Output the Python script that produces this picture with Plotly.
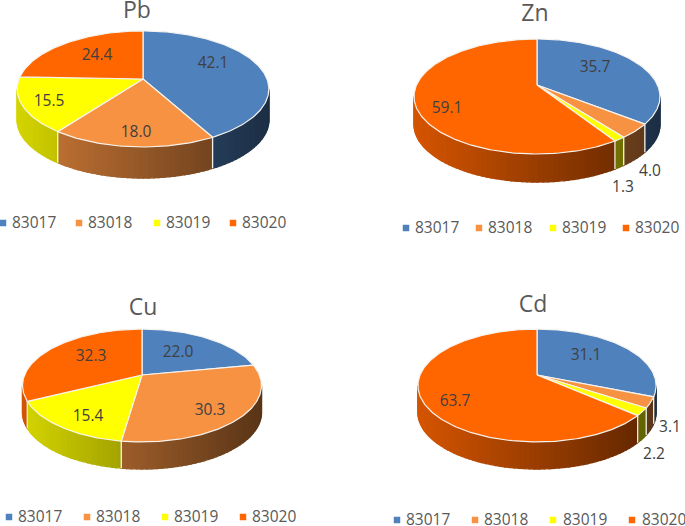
import numpy as np
import plotly.graph_objects as go

# ---- data ----
categories = ["83017", "83018", "83019", "83020"]
pb_values = [42.1, 18.0, 15.5, 24.4]
zn_values = [35.7, 4.0, 1.3, 59.1]
cu_values = [22.0, 30.3, 15.4, 32.3]
cd_values = [31.1, 3.1, 2.2, 63.7]

# ---- styles ----
COLORS = [(79, 129, 189), (246, 146, 66), (255, 255, 0), (255, 102, 0)]
FONT = "Open Sans"
TXT = "#595959"
LBL = "#404040"
TEXT_DY = 1.5  # text box centre sits above the digit centre

# panel layout: apex x/y, R, S, k (perspective), wall height
PANELS = [
    dict(name="Pb", vals=pb_values, ax=143, ay=79, R=124, S=56.3, k=0.172, h=31,
         rx=126, title=(137, 11),
         lbl=[(213, 63), (136, 132), (49, 101), (97, 55)],
         mk=[3, 79, 157, 233], tx=[12, 88, 166, 242], ly=223),
    dict(name="Zn", vals=zn_values, ax=537, ay=85, R=120.5, S=55.2, k=0.2, h=28,
         rx=123, title=(535, 14),
         lbl=[(595, 67), (650, 171), (623, 187), (447, 108)],
         mk=[406, 479, 553, 626], tx=[415, 488, 562, 635], ly=228),
    dict(name="Cu", vals=cu_values, ax=142, ay=375, R=117.4, S=54.5, k=0.186, h=27,
         rx=119.5, title=(143, 308),
         lbl=[(178, 352), (210, 410), (88, 416), (91, 356)],
         mk=[9, 87, 165, 243], tx=[18, 96, 174, 252], ly=517),
    dict(name="Cd", vals=cd_values, ax=537, ay=375, R=117, S=54.5, k=0.186, h=27,
         rx=119, title=(533, 305),
         lbl=[(586, 355), (670, 427), (654, 454), (455, 401)],
         mk=[397, 475, 553, 632], tx=[406, 484, 563, 642], ly=520),
]


def project(p, theta):
    u, v = np.sin(theta), np.cos(theta)
    w = 1 + p["k"] * v
    return p["ax"] + p["R"] * u / w, p["ay"] - p["S"] * v / w


def shade(color, f):
    return "rgb(%d,%d,%d)" % tuple(int(c * f) for c in color)


fig = go.Figure()
skip = dict(hoverinfo="skip", showlegend=False)

for p in PANELS:
    total = sum(p["vals"])
    edges = np.concatenate([[0], np.cumsum(p["vals"])]) / total * 2 * np.pi
    vis = np.arccos(-p["k"])  # silhouette angle: wall visible between vis and 2pi-vis

    # walls
    for i, col in enumerate(COLORS):
        a, b = max(edges[i], vis), min(edges[i + 1], 2 * np.pi - vis)
        if b <= a:
            continue
        n = max(1, int(np.degrees(b - a) / 2))
        steps = np.linspace(a, b, n + 1)
        for t0, t1 in zip(steps[:-1], steps[1:]):
            ts = np.linspace(t0, t1, 3)
            x, y = project(p, ts)
            px = (x.mean() - p["ax"]) / p["rx"]
            c = shade(col, 0.6 - 0.235 * px)
            xs = np.concatenate([x, x[::-1], x[:1]])
            ys = np.concatenate([y, y[::-1] + p["h"], y[:1]])
            fig.add_trace(go.Scatter(x=xs, y=ys, mode="lines", fill="toself",
                                     fillcolor=c, line=dict(color=c, width=1.4), **skip))
    # white wall dividers
    for e in edges[:-1]:
        e = e % (2 * np.pi)
        if vis < e < 2 * np.pi - vis:
            x, y = project(p, np.array([e]))
            fig.add_trace(go.Scatter(x=[x[0], x[0]], y=[y[0], y[0] + p["h"]], mode="lines",
                                     line=dict(color="#f4f0ea", width=1.3), **skip))

    # top slices
    for i, col in enumerate(COLORS):
        n = max(3, int(np.degrees(edges[i + 1] - edges[i])))
        ts = np.linspace(edges[i], edges[i + 1], n + 1)
        x, y = project(p, ts)
        xs = np.concatenate([[p["ax"]], x, [p["ax"]]])
        ys = np.concatenate([[p["ay"]], y, [p["ay"]]])
        fig.add_trace(go.Scatter(x=xs, y=ys, mode="lines", fill="toself",
                                 fillcolor=shade(col, 1),
                                 line=dict(color="#f6f3ee", width=1.2), **skip))

    # data labels
    fig.add_trace(go.Scatter(x=[q[0] for q in p["lbl"]], y=[q[1] + TEXT_DY for q in p["lbl"]],
                             mode="text", text=["%.1f" % v for v in p["vals"]],
                             textposition="middle center", cliponaxis=False,
                             textfont=dict(family=FONT, size=15.5, color=LBL), **skip))
    # title
    fig.add_trace(go.Scatter(x=[p["title"][0]], y=[p["title"][1] + TEXT_DY], mode="text",
                             text=[p["name"]], textposition="middle center", cliponaxis=False,
                             textfont=dict(family=FONT, size=23, color=TXT), **skip))
    # legend
    fig.add_trace(go.Scatter(x=p["mk"], y=[p["ly"]] * 4, mode="markers",
                             marker=dict(symbol="square", size=6.5, line=dict(width=0),
                                         color=[shade(c, 1) for c in COLORS]), **skip))
    fig.add_trace(go.Scatter(x=p["tx"], y=[p["ly"] + TEXT_DY] * 4, mode="text", text=categories,
                             textposition="middle right", cliponaxis=False,
                             textfont=dict(family=FONT, size=15.5, color=TXT), **skip))

hidden = dict(visible=False, fixedrange=True)
fig.update_layout(width=685, height=526, margin=dict(l=0, r=0, t=0, b=0),
                  paper_bgcolor="white", plot_bgcolor="white",
                  xaxis=dict(range=[0, 685], **hidden),
                  yaxis=dict(range=[526, 0], **hidden))
fig.write_html("out.html", config={"displayModeBar": False},
               post_script="document.body.style.margin='0';")
